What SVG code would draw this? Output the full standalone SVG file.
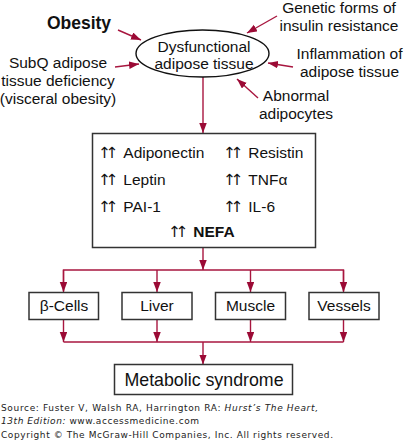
<svg xmlns="http://www.w3.org/2000/svg" width="404" height="441" viewBox="0 0 404 441">
<defs>
<marker id="ah" markerUnits="userSpaceOnUse" markerWidth="11" markerHeight="8" refX="10" refY="3.75" orient="auto">
<path d="M0,0 L10,3.75 L0,7.5 z" fill="#9b0a35"/>
</marker>
<style>
.t{font-family:"Liberation Sans",Arial,sans-serif;font-size:15.5px;fill:#111}
.c{text-anchor:middle}
.b{font-weight:bold}
.up{font-family:"DejaVu Sans",sans-serif;letter-spacing:-5.5px}
.box{fill:#fff;stroke:#333;stroke-width:1.5}
.ln{fill:none;stroke:#a8163f;stroke-width:1.4}
.ar{fill:none;stroke:#a8163f;stroke-width:1.4;marker-end:url(#ah)}
.f{font-family:"DejaVu Sans",Verdana,sans-serif;font-size:9px;fill:#222}
</style>
</defs>
<rect width="404" height="441" fill="#fff"/>

<g id="connectors">
<line class="ar" x1="118" y1="30" x2="141" y2="40"/>
<line class="ar" x1="115" y1="67" x2="139" y2="64"/>
<line class="ar" x1="277" y1="16" x2="247" y2="33"/>
<line class="ar" x1="293" y1="67" x2="268" y2="63"/>
<line class="ar" x1="258" y1="98" x2="237" y2="79"/>
<line class="ar" x1="203" y1="77" x2="203" y2="133"/>
<line class="ar" x1="203" y1="247" x2="203" y2="270"/>
<polyline class="ln" points="63.5,291 63.5,270 343.5,270 343.5,291"/>
<line class="ar" x1="63.5" y1="270" x2="63.5" y2="292"/>
<line class="ar" x1="157" y1="270" x2="157" y2="292"/>
<line class="ar" x1="250.5" y1="270" x2="250.5" y2="292"/>
<line class="ar" x1="343.5" y1="270" x2="343.5" y2="292"/>
<line class="ar" x1="63.5" y1="319" x2="63.5" y2="342"/>
<line class="ar" x1="157" y1="319" x2="157" y2="342"/>
<line class="ar" x1="250.5" y1="319" x2="250.5" y2="342"/>
<line class="ar" x1="343.5" y1="319" x2="343.5" y2="342"/>
<line class="ln" x1="63.5" y1="342" x2="343.5" y2="342"/>
<line class="ar" x1="203" y1="342" x2="203" y2="364.5"/>
</g>

<g id="obesity"><text class="t c b" x="79" y="29" style="font-size:17.5px">Obesity</text></g>
<g id="subq">
<text class="t c" x="58" y="68">SubQ adipose</text>
<text class="t c" x="58" y="86">tissue deficiency</text>
<text class="t c" x="58" y="104">(visceral obesity)</text>
</g>
<g id="genetic">
<text class="t c" x="339" y="13">Genetic forms of</text>
<text class="t c" x="339" y="30.5">insulin resistance</text>
</g>
<g id="inflammation">
<text class="t c" x="349.5" y="59">Inflammation of</text>
<text class="t c" x="349.5" y="77">adipose tissue</text>
</g>
<g id="abnormal">
<text class="t c" x="296" y="101">Abnormal</text>
<text class="t c" x="296" y="119">adipocytes</text>
</g>
<g id="dysfunctional">
<ellipse cx="202.5" cy="53.5" rx="66.5" ry="23.5" fill="#fff" stroke="#111" stroke-width="1.4"/>
<text class="t c" x="204" y="52">Dysfunctional</text>
<text class="t c" x="204" y="69">adipose tissue</text>
</g>
<g id="adipokines">
<rect class="box" x="92.5" y="133.5" width="223" height="114"/>
<text class="t" x="98" y="158"><tspan class="up">↑↑</tspan><tspan x="123.3">Adiponectin</tspan></text>
<text class="t" x="98" y="185"><tspan class="up">↑↑</tspan><tspan x="123.3">Leptin</tspan></text>
<text class="t" x="98" y="212"><tspan class="up">↑↑</tspan><tspan x="123.3">PAI-1</tspan></text>
<text class="t" x="223" y="158"><tspan class="up">↑↑</tspan><tspan x="248.3">Resistin</tspan></text>
<text class="t" x="223" y="185"><tspan class="up">↑↑</tspan><tspan x="248.3">TNFα</tspan></text>
<text class="t" x="223" y="212"><tspan class="up">↑↑</tspan><tspan x="248.3">IL-6</tspan></text>
<text class="t" x="168" y="237"><tspan class="up">↑↑</tspan><tspan x="193.3" class="b">NEFA</tspan></text>
</g>
<g id="bcells"><rect class="box" x="29" y="292.5" width="69.5" height="27"/><text class="t c" x="64" y="311">β-Cells</text></g>
<g id="liver"><rect class="box" x="122" y="292.5" width="70" height="27"/><text class="t c" x="157" y="311">Liver</text></g>
<g id="muscle"><rect class="box" x="215.5" y="292.5" width="70" height="27"/><text class="t c" x="250.5" y="311">Muscle</text></g>
<g id="vessels"><rect class="box" x="309" y="292.5" width="70" height="27"/><text class="t c" x="344" y="311">Vessels</text></g>
<g id="metabolic"><rect class="box" x="114.5" y="364.5" width="178" height="30"/><text class="t c" x="204" y="386" style="font-size:17.8px">Metabolic syndrome</text></g>

<g id="footer">
<text class="f" x="1" y="410.5" textLength="317">Source: Fuster V, Walsh RA, Harrington RA: <tspan font-style="italic">Hurst’s The Heart,</tspan></text>
<text class="f" x="1" y="423.5" textLength="198"><tspan font-style="italic">13th Edition:</tspan> www.accessmedicine.com</text>
<text class="f" x="1" y="437.5" textLength="332">Copyright © The McGraw-Hill Companies, Inc. All rights reserved.</text>
</g>
</svg>
